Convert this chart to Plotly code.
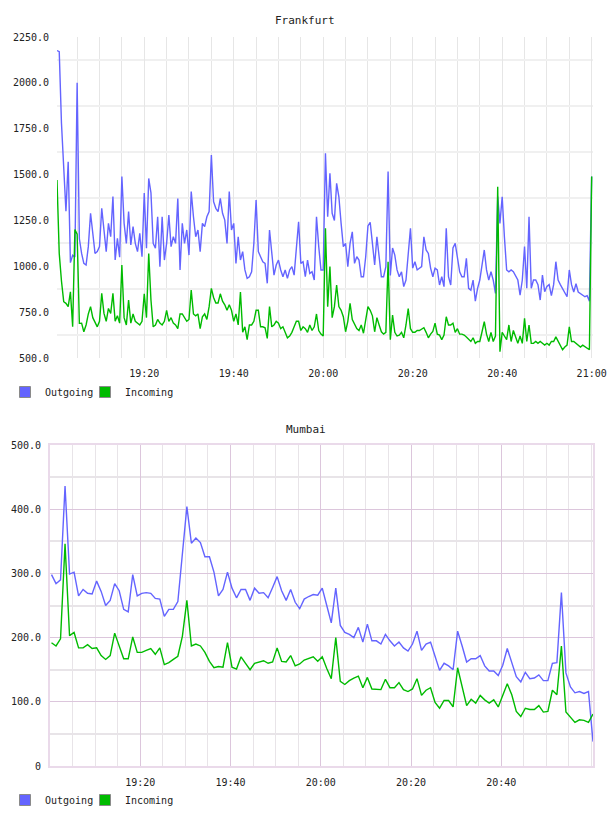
import pandas as pd
import plotly.graph_objects as go

DAY = "2013-05-01 "

# ---------------- Frankfurt (30 s samples, 19:00:30 -> 21:00:00) ----------------
fra_start = DAY + "19:00:30"
fra_step = "30s"
fra_out = [
    2176, 2170, 1780, 1525, 1300, 1570, 1020, 1060, 1050, 2000,
    1150, 1070, 1016, 1007, 1107, 1289, 1161, 1070, 1080, 1107,
    1316, 1198, 1080, 1234, 1161, 1380, 1034, 1152, 1050, 1490,
    1234, 1125, 1298, 1116, 1216, 1125, 1080, 1180, 1052, 1400,
    1098, 1479, 1400, 1125, 1098, 1270, 998, 1270, 1034, 1125,
    1280, 1107, 1161, 1125, 1370, 980, 1234, 1125, 1198, 1061,
    1407, 1270, 1161, 1198, 1080, 1234, 1216, 1270, 1298, 1607,
    1352, 1316, 1298, 1370, 1289, 1252, 1125, 1407, 1198, 1234,
    1016, 1161, 1034, 1080, 980, 934, 943, 970, 1125, 1361,
    1080, 1052, 1025, 1016, 907, 1198, 1052, 952, 1007, 1034,
    980, 943, 980, 934, 980, 998, 952, 1125, 1243, 1016,
    1025, 943, 1034, 961, 970, 925, 1270, 1107, 980, 980,
    1616, 1270, 1507, 1289, 1250, 1452, 1379, 1234, 1107, 1125,
    998, 1125, 1188, 1016, 1052, 1034, 943, 943, 1052, 1220,
    1240, 1125, 1007, 1161, 1052, 943, 943, 998, 1516, 950,
    1100, 1061, 980, 943, 970, 889, 925, 1052, 1207, 990,
    1025, 980, 990, 998, 1161, 1089, 1070, 990, 943, 990,
    980, 898, 943, 889, 1207, 943, 898, 1100, 1125, 1052,
    970, 943, 943, 1043, 880, 870, 925, 810, 880, 925,
    1016, 1089, 980, 925, 970, 925, 852, 1380, 1234, 1379,
    1160, 980, 970, 980, 970, 943, 925, 843, 925, 1107,
    880, 1270, 880, 925, 925, 900, 816, 952, 862, 890,
    900, 840, 900, 1025, 925, 900, 880, 860, 834, 980,
    900, 860, 905, 860, 850, 843, 834, 840, 810, 1490,
]
fra_in = [
    1470, 1070, 920, 807, 798, 780, 861, 670, 1200, 1175,
    689, 690, 643, 680, 740, 780, 720, 690, 670, 700,
    852, 743, 700, 770, 743, 852, 700, 730, 690, 1007,
    720, 680, 816, 690, 740, 700, 690, 680, 700, 850,
    720, 1070, 816, 670, 680, 710, 690, 680, 700, 760,
    700, 720, 690, 680, 660, 740, 740, 720, 700, 710,
    870, 740, 730, 740, 660, 725, 740, 710, 780, 880,
    830, 800, 800, 850, 810, 790, 760, 790, 760, 700,
    740, 680, 860, 640, 670, 600, 680, 680, 700, 760,
    760, 670, 670, 665, 607, 780, 670, 680, 700, 690,
    660, 670, 640, 610, 620, 640, 670, 700, 700, 650,
    670, 660, 640, 680, 650, 670, 740, 650, 630, 620,
    1207, 780, 998, 720, 780, 898, 780, 760, 725, 643,
    700, 798, 710, 680, 660, 650, 680, 635, 700, 780,
    760, 730, 643, 720, 680, 643, 630, 640, 1025, 600,
    734, 640, 620, 625, 640, 610, 680, 770, 660, 640,
    640, 650, 650, 660, 665, 640, 610, 630, 645, 690,
    630, 625, 600, 625, 725, 680, 680, 690, 640, 660,
    630, 630, 625, 615, 600, 590, 610, 580, 590, 590,
    643, 698, 630, 590, 640, 590, 620, 1434, 534, 640,
    620, 600, 680, 590, 650, 620, 580, 620, 580, 716,
    590, 680, 580, 580, 590, 580, 590, 580, 570, 580,
    570, 590, 590, 615, 590, 570, 545, 560, 570, 670,
    590, 590, 580, 570, 560, 570, 560, 555, 545, 1490,
]

# ---------------- Mumbai (1 min samples, 19:00:20 -> 21:00:20) ----------------
mum_start = DAY + "19:00:20"
mum_step = "60s"
mum_out = [
    298, 284, 290, 436, 299, 302, 265, 275, 269, 268,
    288, 272, 250, 258, 284, 273, 244, 240, 298, 265,
    269, 270, 269, 261, 260, 233, 244, 244, 256, 326,
    404, 347, 355, 348, 326, 326, 302, 265, 275, 302,
    277, 262, 275, 275, 258, 277, 269, 270, 262, 278,
    295, 273, 258, 275, 255, 245, 260, 264, 267, 266,
    277, 250, 223, 277, 219, 208, 205, 200, 216, 193,
    221, 195, 195, 190, 205, 195, 187, 193, 184, 179,
    190, 210, 180, 190, 193, 171, 149, 160, 156, 150,
    210, 187, 162, 167, 167, 172, 156, 148, 148, 141,
    157, 183, 161, 139, 131, 146, 136, 137, 142, 133,
    133, 160, 161, 270, 145, 123, 114, 116, 113, 116,
    38,
]
mum_in = [
    192, 187, 198, 346, 203, 208, 184, 184, 189, 183,
    184, 172, 166, 172, 207, 188, 167, 167, 201, 177,
    177, 180, 183, 174, 184, 158, 161, 166, 171, 202,
    258, 187, 190, 187, 177, 163, 153, 155, 154, 192,
    154, 151, 170, 160, 150, 160, 162, 164, 160, 162,
    184, 163, 162, 172, 156, 159, 165, 168, 170, 163,
    170, 152, 136, 200, 132, 127, 133, 137, 140, 122,
    138, 120, 120, 119, 135, 122, 122, 130, 119, 116,
    120, 136, 110, 118, 122, 99, 90, 102, 102, 92,
    153, 125, 94, 104, 98, 110, 103, 98, 103, 92,
    110, 128, 111, 85, 77, 90, 88, 88, 94, 84,
    85, 118, 111, 187, 84, 76, 68, 72, 71, 68,
    81,
]

# ---------------- Ticks ----------------
fra_ytick_vals = [500, 750, 1000, 1250, 1500, 1750, 2000, 2250]
fra_ytick_text = ["500.0", "750.0", "1000.0", "1250.0", "1500.0", "1750.0", "2000.0", "2250.0"]
mum_ytick_vals = [0, 100, 200, 300, 400, 500]
mum_ytick_text = ["0", "100.0", "200.0", "300.0", "400.0", "500.0"]
fra_xtick_text = ["19:20", "19:40", "20:00", "20:20", "20:40", "21:00"]
mum_xtick_text = ["19:20", "19:40", "20:00", "20:20", "20:40"]
series_names = ["Outgoing", "Incoming"]
titles = ["Frankfurt", "Mumbai"]

OUT_C = "#6464ff"
IN_C = "#00bb00"
FONT = "DejaVu Sans Mono"
W, H = 608, 816

fra_t = pd.date_range(fra_start, periods=len(fra_out), freq=fra_step)
mum_t = pd.date_range(mum_start, periods=len(mum_out), freq=mum_step)
fra_xt = [pd.Timestamp(DAY + s) for s in fra_xtick_text]
mum_xt = [pd.Timestamp(DAY + s) for s in mum_xtick_text]

fig = go.Figure()
for t, ys, col, xa, ya in [
    (fra_t, fra_out, OUT_C, "x", "y"),
    (fra_t, fra_in, IN_C, "x", "y"),
    (mum_t, mum_out, OUT_C, "x2", "y2"),
    (mum_t, mum_in, IN_C, "x2", "y2"),
]:
    fig.add_trace(go.Scatter(x=t, y=ys, mode="lines", line=dict(color=col, width=1.4),
                             xaxis=xa, yaxis=ya, showlegend=False, hoverinfo="skip"))

# legend swatches (square markers); one legend box per entry for exact placement
legend_ids = [["legend", "legend3"], ["legend2", "legend4"]]
for (xa, ya), ids in zip([("x", "y"), ("x2", "y2")], legend_ids):
    for name, col, lg in zip(series_names, [OUT_C, IN_C], ids):
        fig.add_trace(go.Scatter(x=[None], y=[None], mode="markers", name=name,
                                 marker=dict(symbol="square", size=11, color=col,
                                             line=dict(color="#8a8a8a", width=1)),
                                 xaxis=xa, yaxis=ya, legend=lg))

tickfont = dict(family=FONT, size=10, color="#222")
legfont = dict(family=FONT, size=10, color="#222")


def leg(x_px, y_px):
    return dict(orientation="h", x=x_px / W, y=1 - y_px / H, xanchor="left", yanchor="middle",
                font=legfont, bgcolor="rgba(0,0,0,0)", borderwidth=0, itemwidth=30)


fig.update_layout(
    template="none",
    width=W, height=H, margin=dict(l=0, r=0, t=0, b=0, autoexpand=False),
    paper_bgcolor="white", plot_bgcolor="white",
    font=dict(family=FONT, size=10, color="#222"),
    xaxis=dict(
        domain=[57 / W, 593 / W], type="date", automargin=False,
        range=[pd.Timestamp(DAY + "19:00:30"), pd.Timestamp(DAY + "21:00:18")],
        tickmode="array", tickvals=fra_xt, ticktext=fra_xtick_text,
        showgrid=True, gridcolor="#e6e6e6", gridwidth=1,
        minor=dict(tick0=DAY + "19:00:00", dtick=300000, showgrid=True,
                   gridcolor="#e6e6e6", gridwidth=1),
        zeroline=False, showline=False, ticks="outside", ticklen=6,
        tickcolor="rgba(0,0,0,0)", tickfont=tickfont, anchor="y",
    ),
    yaxis=dict(
        domain=[1 - 358 / H, 1 - 37 / H], range=[500, 2250], automargin=False,
        tickmode="array", tickvals=fra_ytick_vals, ticktext=fra_ytick_text,
        showgrid=False,
        minor=dict(tick0=125, dtick=250, showgrid=True, gridcolor="#f0f0f0", gridwidth=2),
        zeroline=False, showline=False, ticks="outside", ticklen=5,
        tickcolor="rgba(0,0,0,0)", tickfont=tickfont, anchor="x",
    ),
    xaxis2=dict(
        domain=[50 / W, 593 / W], type="date", automargin=False,
        range=[pd.Timestamp(DAY + "19:00:00"), pd.Timestamp(DAY + "21:00:20")],
        tickmode="array", tickvals=mum_xt, ticktext=mum_xtick_text,
        showgrid=True, gridcolor="#dcc6dc", gridwidth=1,
        minor=dict(tick0=DAY + "19:00:00", dtick=300000, showgrid=True,
                   gridcolor="#e8e4e8", gridwidth=1),
        zeroline=False, showline=True, mirror=True, linecolor="#eadaea", linewidth=2,
        ticks="outside", ticklen=6, tickcolor="rgba(0,0,0,0)", tickfont=tickfont, anchor="y2",
    ),
    yaxis2=dict(
        domain=[1 - 766 / H, 1 - 445 / H], range=[0, 500], automargin=False,
        tickmode="array", tickvals=mum_ytick_vals, ticktext=mum_ytick_text,
        showgrid=True, gridcolor="#dcc6dc", gridwidth=1,
        minor=dict(tick0=50, dtick=100, showgrid=True, gridcolor="#e8e4e8", gridwidth=1.5),
        zeroline=False, showline=True, mirror=True, linecolor="#eadaea", linewidth=2,
        ticks="outside", ticklen=5, tickcolor="rgba(0,0,0,0)", tickfont=tickfont, anchor="x2",
    ),
    legend=leg(5, 392),
    legend3=leg(85, 392),
    legend2=leg(5, 800),
    legend4=leg(85, 800),
    annotations=[
        dict(text=titles[0], x=305 / W, y=1 - 20 / H, xref="paper", yref="paper",
             showarrow=False, xanchor="center", yanchor="middle",
             font=dict(family=FONT, size=11, color="#222")),
        dict(text=titles[1], x=306 / W, y=1 - 429 / H, xref="paper", yref="paper",
             showarrow=False, xanchor="center", yanchor="middle",
             font=dict(family=FONT, size=11, color="#222")),
    ],
)

fig.write_html("out.html")
